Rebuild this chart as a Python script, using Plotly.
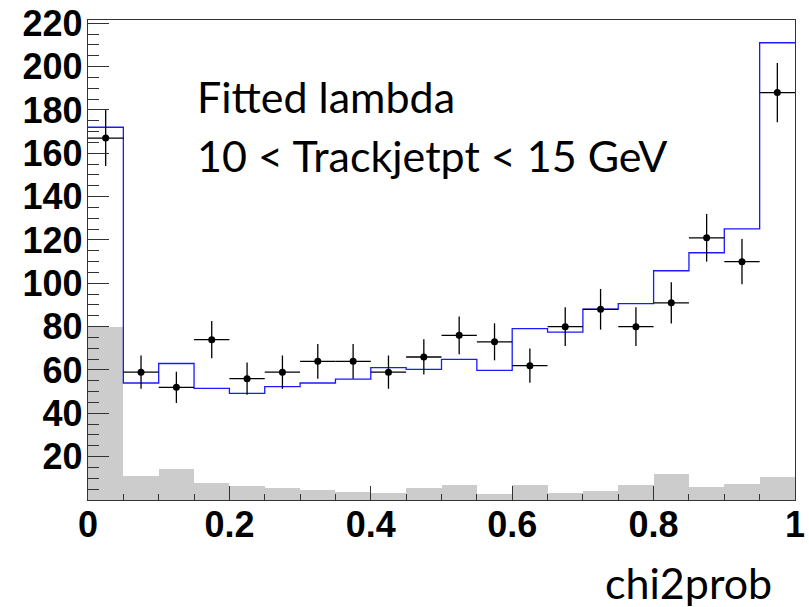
import numpy as np
import plotly.graph_objects as go

# ---- data ----
bin_edges = [round(0.05 * i, 2) for i in range(21)]
bin_centers = [round(0.025 + 0.05 * i, 3) for i in range(20)]

data_counts = [167, 59, 52, 74, 56, 59, 64, 64, 59, 66,
               76, 73, 62, 80, 88, 80, 91, 121, 110, 188]
fit_counts = [172, 54, 63, 51.5, 49.2, 52.3, 54, 55.8, 61.1, 60.3,
              64.9, 59.8, 79.1, 77.5, 88.1, 90.6, 105.8, 114.1, 125.1, 211]
bkg_counts = [80, 11.1, 14.3, 7.8, 6.3, 5.5, 4.6, 3.7, 3.1, 5.5,
              6.8, 2.8, 6.8, 3.3, 4.3, 6.8, 12.1, 6.0, 7.4, 10.8]

x_tick_vals = [0, 0.2, 0.4, 0.6, 0.8, 1]
x_tick_text = ["0", "0.2", "0.4", "0.6", "0.8", "1"]
y_tick_vals = [20, 40, 60, 80, 100, 120, 140, 160, 180, 200, 220]
y_tick_text = [str(v) for v in y_tick_vals]

label_line1 = "Fitted lambda"
label_line2 = "10 < Trackjetpt < 15 GeV"
x_title = "chi2prob"

# ---- figure ----
W, H = 809, 607
L, R, T, B = 88, 14, 20, 107
plot_w = W - L - R
plot_h = H - T - B

fig = go.Figure()

# background (grey) histogram
fig.add_trace(go.Bar(
    x=bin_centers, y=bkg_counts, width=0.05,
    marker=dict(color="#cccccc", line=dict(width=0)),
    showlegend=False, hoverinfo="skip",
))

# fitted step histogram (blue)
step_x = bin_edges
step_y = fit_counts + [fit_counts[-1]]
fig.add_trace(go.Scatter(
    x=step_x, y=step_y, mode="lines", line_shape="hv",
    line=dict(color="#1a1aff", width=1.3),
    showlegend=False, hoverinfo="skip",
))

# data points with error bars
err_y = [float(np.sqrt(v)) for v in data_counts]
err_x = [0.025] * len(data_counts)
fig.add_trace(go.Scatter(
    x=bin_centers, y=data_counts, mode="markers",
    marker=dict(color="black", size=7),
    error_y=dict(type="data", array=err_y, visible=True, width=0,
                 thickness=1.3, color="black"),
    error_x=dict(type="data", array=err_x, visible=True, width=0,
                 thickness=1.3, color="black"),
    showlegend=False,
))

tick_font = dict(family="Liberation Sans", size=36, color="black", weight="bold")

fig.update_layout(
    width=W, height=H,
    margin=dict(l=L, r=R, t=T, b=B, pad=0, autoexpand=False),
    paper_bgcolor="white", plot_bgcolor="white",
    bargap=0, showlegend=False,
    xaxis=dict(
        range=[0, 1], tickvals=x_tick_vals, ticktext=x_tick_text,
        ticks="inside", ticklen=14, tickwidth=1.3, tickcolor="#333",
        minor=dict(ticks="inside", dtick=0.05, ticklen=6, tickwidth=1.3, tickcolor="#333"),
        showline=True, linecolor="#333", linewidth=1.3, mirror=True,
        showgrid=False, zeroline=False, automargin=False,
        tickfont=tick_font, ticklabelstandoff=-7,
    ),
    yaxis=dict(
        range=[0, 221.5], tickvals=y_tick_vals, ticktext=y_tick_text,
        ticks="inside", ticklen=21, tickwidth=1.3, tickcolor="#333",
        minor=dict(ticks="inside", dtick=5, ticklen=11, tickwidth=1.3, tickcolor="#333"),
        showline=True, linecolor="#333", linewidth=1.3, mirror=True,
        showgrid=False, zeroline=False, automargin=False,
        tickfont=tick_font, ticklabelstandoff=-3,
    ),
)

def px_to_paper_x(px):
    return (px - L) / plot_w

def px_to_paper_y(py):
    return (H - B - py) / plot_h

text_font = dict(family="Lato", size=43, color="black")
fig.add_annotation(text=label_line1, xref="paper", yref="paper",
                   x=px_to_paper_x(195), y=px_to_paper_y(96),
                   xanchor="left", yanchor="middle", showarrow=False, font=text_font)
fig.add_annotation(text=label_line2, xref="paper", yref="paper",
                   x=px_to_paper_x(195), y=px_to_paper_y(155),
                   xanchor="left", yanchor="middle", showarrow=False, font=text_font)
fig.add_annotation(text=x_title, xref="paper", yref="paper",
                   x=px_to_paper_x(774), y=px_to_paper_y(582),
                   xanchor="right", yanchor="middle", showarrow=False, font=text_font)

fig.write_html(
    "out.html",
    config={"displayModeBar": False},
    post_script="document.body.style.margin='0';document.body.style.overflow='hidden';",
)
